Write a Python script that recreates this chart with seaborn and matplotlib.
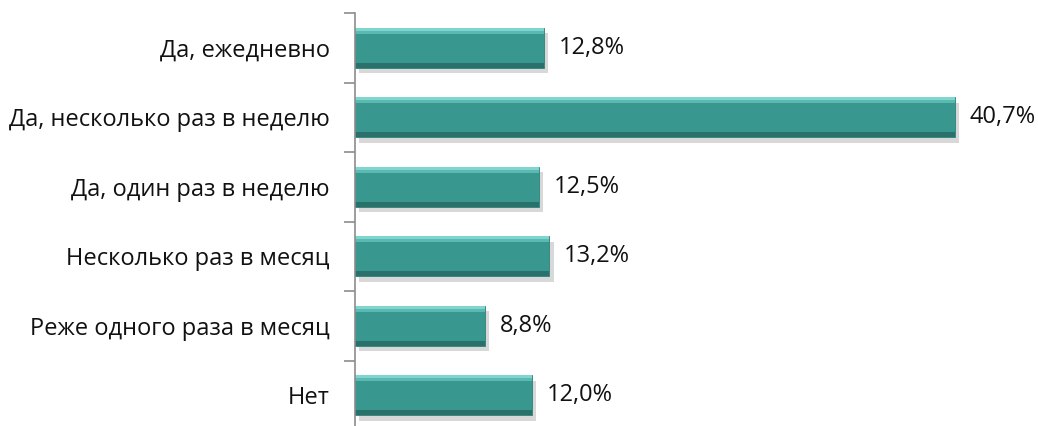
import numpy as np
import pandas as pd
import matplotlib
matplotlib.use('Agg')
import matplotlib.pyplot as plt
import matplotlib.patheffects as pe
import seaborn as sns

categories = ['Да, ежедневно', 'Да, несколько раз в неделю', 'Да, один раз в неделю',
              'Несколько раз в месяц', 'Реже одного раза в месяц', 'Нет']
values = [12.8, 40.7, 12.5, 13.2, 8.8, 12.0]
labels = ['12,8%', '40,7%', '12,5%', '13,2%', '8,8%', '12,0%']

sns.set_style('white')
plt.rcParams['font.family'] = ['Open Sans', 'DejaVu Sans']

df = pd.DataFrame({'cat': categories, 'val': values})

fig = plt.figure(figsize=(10.38, 4.26), dpi=100)
ax = fig.add_axes([355 / 1038, -4 / 426, (1018 - 355) / 1038, (413 + 4) / 426])

sns.barplot(data=df, y='cat', x='val', orient='h', color='#38978f', saturation=1,
            width=0.57, ax=ax)

for p in ax.patches:
    p.set_edgecolor('#2f7f78')
    p.set_linewidth(0.6)
    p.set_path_effects([pe.SimplePatchShadow(offset=(3, -4), shadow_rgbFace='#c8c8c8', alpha=0.7),
                        pe.Normal()])
    # soft bevel: light top edge, darker bottom edge
    x0, y0 = p.get_x(), p.get_y()
    w, h = p.get_width(), p.get_height()
    ax.add_patch(plt.Rectangle((x0, y0), w, h * 0.07, color='#7fd6ce', lw=0))
    ax.add_patch(plt.Rectangle((x0, y0 + h * 0.07), w, h * 0.08, color='#5bb9b1', lw=0))
    ax.add_patch(plt.Rectangle((x0, y0 + h * 0.88), w, h * 0.12, color='#2b716b', lw=0))

for i, (v, lab) in enumerate(zip(values, labels)):
    ax.text(v + 1.0, i, lab, va='center', ha='left', fontsize=17, color='#111111')

ax.set_xlim(0, 45)
ax.set_ylim(5.5, -0.5)
ax.set_yticks(np.arange(-0.5, 6.0, 1.0), minor=False)
ax.set_yticks(np.arange(0, 6), minor=True)
ax.set_yticklabels([''] * 7)
ax.set_yticklabels(categories, minor=True)
ax.tick_params(axis='y', which='major', length=8, width=1.2, color='#8c8c8c', left=True)
ax.tick_params(axis='y', which='minor', length=0, pad=18, labelsize=17, labelcolor='#111111')
ax.set_xticks([])
ax.set_xlabel('')
ax.set_ylabel('')
for s in ['top', 'right', 'bottom']:
    ax.spines[s].set_visible(False)
ax.spines['left'].set_color('#8c8c8c')
ax.spines['left'].set_linewidth(1.2)

fig.savefig('out.png', dpi=100)
